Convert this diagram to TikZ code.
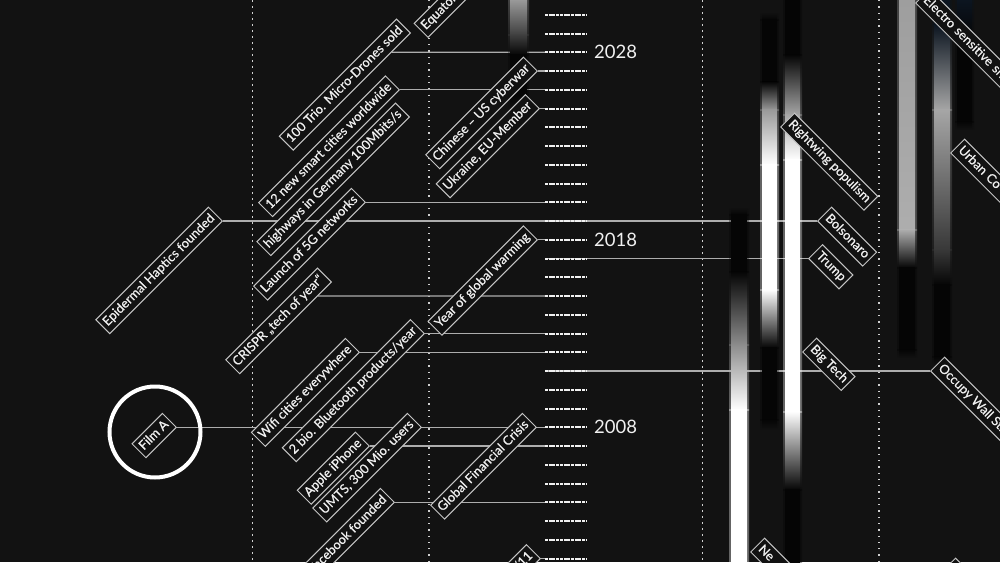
\documentclass[tikz,border=0pt]{standalone}
\usepackage{fontspec}
\setmainfont{Lato}
\newfontfamily\lblfont{Lato}[FakeBold=0.6]
\definecolor{bg}{HTML}{121212}
\definecolor{txt}{HTML}{F0F0F0}
\definecolor{boxc}{HTML}{C4C4C4}
\definecolor{connc}{HTML}{ADADAD}
\definecolor{dotc}{HTML}{D0D0D0}
\definecolor{kk}{HTML}{050505}
\definecolor{navy}{HTML}{0C1520}
\definecolor{gA}{gray}{0.60}
\definecolor{gB}{gray}{0.25}
\definecolor{gC}{gray}{0.55}
\definecolor{gD}{gray}{0.65}
\definecolor{gE}{gray}{0.62}
\definecolor{gF}{gray}{0.68}
\definecolor{gG}{gray}{0.22}
\pgfdeclarelayer{bglayer}
\pgfdeclarelayer{barlayer}
\pgfsetlayers{bglayer,barlayer,main}
\pgfmathdeclarefunction{yr}{1}{\pgfmathparse{427.3-(#1-2008)*18.75}}
\newcommand\barseg[6]{%
  \shade[top color=#5, bottom color=#6, opacity=0.35] ({#1-2},#3) rectangle ({#2+2},#4);
  \shade[top color=#5, bottom color=#6] (#1,#3) rectangle (#2,#4);}
\begin{document}
\begin{tikzpicture}[x=1pt,y=-1pt,
  lblbase/.style={draw=boxc, line width=1pt, fill=bg, text=txt,
    font=\lblfont\fontsize{12.8}{13}\selectfont, inner sep=3.6pt,
    text height=9.6pt, text depth=2.8pt},
  ulbl/.style={lblbase, rotate=45, anchor=south east},
  dlbl/.style={lblbase, rotate=-45, anchor=south west},
  conn/.style={draw=connc, line width=1.2pt},
  tickl/.style={draw=txt, line width=2pt, dash pattern=on 3pt off 0.7pt},
  vdash/.style={draw=dotc, line width=1pt, dash pattern=on 2pt off 4pt},
  vdot/.style={draw=dotc, line width=1.3pt, dash pattern=on 1.3pt off 5pt},
  yrl/.style={text=txt, font=\fontsize{18.5}{18.5}\selectfont, anchor=west, inner sep=0pt}]
\useasboundingbox (0,0) rectangle (1000,562);

\foreach \a in {2001,...,2030}{
  \coordinate (y\a) at (545,{yr(\a)});
  \coordinate (t\a) at (586,{yr(\a)});
}

% ---------- labels (up-right) ----------
\node[ulbl] (Trio) at (411,33) {100 Trio. Micro-Drones sold};
\node[ulbl] (Smart) at (400,{yr(2026)}) {12 new smart cities worldwide};
\node[ulbl] (High) at (410,117) {highways in Germany 100Mbits/s};
\node[ulbl] (FiveG) at (366,{yr(2020)}) {Launch of 5G networks};
\node[ulbl] (Epid) at (223,{yr(2019)}) {Epidermal Haptics founded};
\node[ulbl] (Crispr) at (332,282) {CRISPR „tech of year“};
\node[ulbl] (Wifi) at (360,{yr(2012)}) {Wifi cities everywhere};
\node[ulbl] (Blue) at (425,{yr(2013)}) {2 bio. Bluetooth products/year};
\node[ulbl] (Phone) at (370,{yr(2007)}) {Apple iPhone};
\node[ulbl] (Umts) at (422,{yr(2008)}) {UMTS, 300 Mio. users};
\node[ulbl] (Face) at (395,{yr(2004)}) {Facebook founded};
\node[ulbl] (Gfc) at (537,{yr(2008)}) {Global Financial Crisis};
\node[ulbl] (Warm) at (538,{yr(2018)}) {Year of global warming};
\node[ulbl] (Cyber) at (538,{yr(2027)}) {Chinese – US cyberwar};
\node[ulbl] (Ukr) at (540,{yr(2025)}) {Ukraine, EU-Member};
\node[ulbl, anchor=south west, text width=70pt, align=left] (Equ) at (428,38) {Equator};
\node[ulbl] (Film) at (177,{yr(2008)}) {Film A};
\node[ulbl] (Nine) at (541,{yr(2001)}) {9/11};

% ---------- labels (down-right) ----------
\node[dlbl] (Right) at (780,127) {Rightwing populism};
\node[dlbl] (Bols) at (817,{yr(2019)}) {Bolsonaro};
\node[dlbl] (Trump) at (808,{yr(2017)}) {Trump};
\node[dlbl] (Big) at (802,352) {Big Tech};
\node[dlbl] (Occ) at (930,{yr(2011)}) {Occupy Wall Street};
\node[dlbl, text width=80pt, align=left] (Urban) at (950,153) {Urban Co};
\node[dlbl, text width=140pt, align=left] (Elec) at (915,3) {Electro sensitive sh};
\node[dlbl, text width=60pt, align=left] (Ne) at (750,552) {Ne};
\node[dlbl, text width=60pt] (Cnr) at (941,572) {};

% ---------- ring ----------
\node[circle, draw=white, line width=4pt, minimum size=91pt, inner sep=0pt] (Ring) at (155,432) {};

% ---------- background, grid, connectors ----------
\begin{pgfonlayer}{bglayer}
\fill[bg] (0,0) rectangle (1000,562);
\draw[vdash] (252,0) -- (252,562);
\draw[vdot] (429,0) -- (429,562);
\draw[vdash] (702,0) -- (702,562);
\draw[vdot] (879,0) -- (879,562);

\draw[conn] (intersection cs: first line={(Trio.south west)--(Trio.south east)}, second line={(y2028)--(t2028)}) -- (y2028);
\draw[conn] (Cyber.south east) -- (Cyber.south east -| y2027);
\draw[conn] (Smart.south east) -- (Smart.south east -| y2026);
\draw[conn] (Ukr.south east) -- (Ukr.south east -| y2025);
\draw[conn] (FiveG.south east) -- (FiveG.south east -| y2020);
\draw[conn] (Epid.south east) -- (Epid.south east -| y2019);
\draw[conn] (y2019) -- (Bols.south west);
\draw[conn] (Warm.south east) -- (Warm.south east -| y2018);
\draw[conn] (y2017) -- (Trump.south west);
\draw[conn] (intersection cs: first line={(Crispr.south west)--(Crispr.south east)}, second line={(y2015)--(t2015)}) -- (y2015);
\draw[conn] (Blue.south east) -- (Blue.south east -| y2013);
\draw[conn] (Wifi.south east) -- (Wifi.south east -| y2012);
\draw[conn] (y2011) -- (Occ.south west);
\draw[conn] (Film.south east) -- (Film.south east -| y2008);
\draw[conn] (Phone.south east) -- (Phone.south east -| y2007);
\draw[conn] (Face.south east) -- (Face.south east -| y2004);
\draw[conn] (Nine.south east) -- (Nine.south east -| y2001);
\end{pgfonlayer}

% ---------- bars, ticks, years ----------
\begin{pgfonlayer}{barlayer}
% bar A
\barseg{510}{527}{0}{35}{gA}{gB}
\barseg{510}{527}{34.5}{55}{gB}{kk}
\barseg{510}{527}{54.5}{95}{kk}{kk}
\barseg{510}{527}{94.5}{110}{kk}{bg}
% bar B
\barseg{731}{747}{207}{215}{bg}{kk}
\barseg{731}{747}{214.5}{272}{kk}{kk}
\barseg{731}{747}{271.5}{345}{kk}{gC}
\barseg{731}{747}{344.5}{410}{gC}{white}
\barseg{731}{747}{409.5}{562}{white}{white}
% bar C
\barseg{762}{777}{12}{20}{bg}{kk}
\barseg{762}{777}{19.5}{82}{kk}{kk}
\barseg{762}{777}{81.5}{110}{kk}{gA}
\barseg{762}{777}{109.5}{165}{gA}{white}
\barseg{762}{777}{164.5}{290}{white}{white}
\barseg{762}{777}{289.5}{348}{white}{kk}
\barseg{762}{777}{347.5}{420}{kk}{kk}
\barseg{762}{777}{419.5}{430}{kk}{bg}
% bar D
\barseg{785}{800}{0}{55}{kk}{kk}
\barseg{785}{800}{54.5}{115}{kk}{gD}
\barseg{785}{800}{114.5}{160}{gD}{white}
\barseg{785}{800}{159.5}{412}{white}{white}
\barseg{785}{800}{411.5}{490}{white}{kk}
\barseg{785}{800}{489.5}{562}{kk}{kk}
% bar E
\barseg{899}{915}{0}{230}{gE}{gF}
\barseg{899}{915}{229.5}{268}{gF}{kk}
\barseg{899}{915}{267.5}{350}{kk}{kk}
\barseg{899}{915}{349.5}{358}{kk}{bg}
% bar F
\barseg{934}{950}{0}{25}{navy}{navy}
\barseg{934}{950}{24.5}{110}{navy}{gD}
\barseg{934}{950}{109.5}{250}{gD}{gG}
\barseg{934}{950}{249.5}{285}{gG}{kk}
\barseg{934}{950}{284.5}{357}{kk}{kk}
\barseg{934}{950}{356.5}{365}{kk}{bg}
% bar G
\barseg{957}{972}{0}{40}{navy}{kk}
\barseg{957}{972}{39.5}{122}{kk}{kk}
\barseg{957}{972}{121.5}{130}{kk}{bg}

\foreach \a in {2001,...,2030}{ \draw[tickl] (y\a) -- (t\a); }
\node[yrl] (Y28) at (594,{yr(2028)}) {2028};
\node[yrl] (Y18) at (594,{yr(2018)}) {2018};
\node[yrl] (Y08) at (594,{yr(2008)}) {2008};
\end{pgfonlayer}
\end{tikzpicture}
\end{document}
